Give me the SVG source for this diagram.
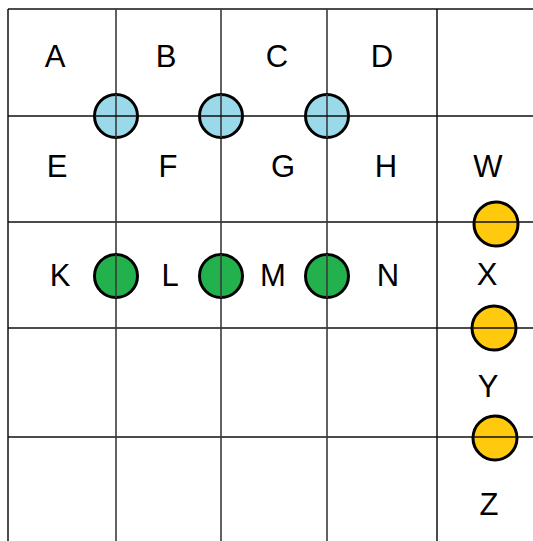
<svg xmlns="http://www.w3.org/2000/svg" width="533" height="541" viewBox="0 0 533 541">
<style>
.g{stroke:#111;stroke-width:1.5;fill:none}
.v{stroke:#3a3a3a;stroke-width:1.6}
.t{font-family:"Liberation Sans",Arial,sans-serif;font-size:31px;fill:#000;text-anchor:middle}
.c{stroke:#000;stroke-width:3}
.blue{fill:#99D9EA}
.green{fill:#22B14C}
.yellow{fill:#FFC90E}
</style>
<rect width="533" height="541" fill="#fff"/>
<g id="grid">
<line class="g" x1="8" y1="9" x2="533" y2="9"/>
<line class="g" x1="8" y1="116" x2="533" y2="116"/>
<line class="g" x1="8" y1="222" x2="533" y2="222"/>
<line class="g" x1="8" y1="328" x2="533" y2="328"/>
<line class="g" x1="8" y1="437" x2="533" y2="437"/>
<line class="g" x1="8" y1="9" x2="8" y2="541"/>
<line class="g v" x1="116" y1="9" x2="116" y2="541"/>
<line class="g v" x1="221" y1="9" x2="221" y2="541"/>
<line class="g v" x1="327" y1="9" x2="327" y2="541"/>
<line class="g" x1="437" y1="9" x2="437" y2="541"/>
</g>
<g id="connectors"></g>
<g id="labels">
<text class="t" x="55" y="67">A</text>
<text class="t" x="166" y="67">B</text>
<text class="t" x="277" y="67">C</text>
<text class="t" x="382" y="67">D</text>
<text class="t" x="57" y="177">E</text>
<text class="t" x="168" y="177">F</text>
<text class="t" x="283" y="177">G</text>
<text class="t" x="386" y="177">H</text>
<text class="t" x="488" y="177">W</text>
<text class="t" x="60" y="286">K</text>
<text class="t" x="170" y="286">L</text>
<text class="t" x="273" y="286">M</text>
<text class="t" x="388" y="286">N</text>
<text class="t" x="487" y="285">X</text>
<text class="t" x="488" y="397">Y</text>
<text class="t" x="489" y="515">Z</text>
</g>
<g id="blue1"><circle class="c blue" cx="116" cy="116" r="21.5"/><line class="g v" x1="116" y1="94" x2="116" y2="138"/><line class="g" x1="94" y1="116" x2="138" y2="116"/></g>
<g id="blue2"><circle class="c blue" cx="221" cy="116" r="21.5"/><line class="g v" x1="221" y1="94" x2="221" y2="138"/><line class="g" x1="199" y1="116" x2="243" y2="116"/></g>
<g id="blue3"><circle class="c blue" cx="327" cy="116" r="21.5"/><line class="g v" x1="327" y1="94" x2="327" y2="138"/><line class="g" x1="305" y1="116" x2="349" y2="116"/></g>
<g id="green1"><circle class="c green" cx="116" cy="276" r="21.5"/><line class="g v" x1="116" y1="254" x2="116" y2="298"/></g>
<g id="green2"><circle class="c green" cx="221" cy="276" r="21.5"/><line class="g v" x1="221" y1="254" x2="221" y2="298"/></g>
<g id="green3"><circle class="c green" cx="327" cy="276" r="21.5"/><line class="g v" x1="327" y1="254" x2="327" y2="298"/></g>
<g id="yellow1"><circle class="c yellow" cx="496" cy="224" r="22"/><line class="g" x1="474" y1="222" x2="518" y2="222"/></g>
<g id="yellow2"><circle class="c yellow" cx="494" cy="328" r="22"/><line class="g" x1="472" y1="328" x2="516" y2="328"/></g>
<g id="yellow3"><circle class="c yellow" cx="495" cy="438" r="22"/><line class="g" x1="473" y1="437" x2="517" y2="437"/></g>
</svg>
